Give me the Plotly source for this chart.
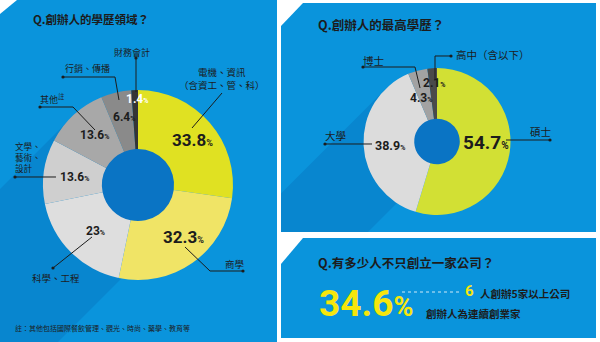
import plotly.graph_objects as go

W, H = 600, 342

# ---------------- data ----------------
field_labels = ["電機、資訊（含資工、管、科）", "商學", "科學、工程", "文學、藝術、設計", "其他", "行銷、傳播", "財務會計"]
field_values = [33.8, 32.3, 23, 13.6, 13.6, 6.4, 1.4]

degree_labels = ["碩士", "大學", "博士", "高中（含以下）"]
degree_values = [54.7, 38.9, 4.3, 2.1]

serial_founder_pct = 34.6
five_plus_founders = 6

# ---------------- styles ----------------
BLUE = "#0a94dc"
SHADOW = "#0886cf"
HOLE = "#0a74c4"
DARK = "#1c1c1c"
YELLOW = "#f6e60c"
CJK = "Noto Sans CJK TC"
NUM = "Roboto, Noto Sans CJK TC"

field_colors = ["#e0e122", "#f0e466", "#dedede", "#cfcfcf", "#a8a8a8", "#8a8a8a", "#353535"]
degree_colors = ["#d2e034", "#dcdcdc", "#a2a2a2", "#4a4a4a"]


def X(px):
    return px / W


def Y(py):
    return 1 - py / H


def path(points):
    return "M " + " L ".join(f"{X(a):.5f},{Y(b):.5f}" for a, b in points) + " Z"


def opath(points):
    return "M " + " L ".join(f"{X(a):.5f},{Y(b):.5f}" for a, b in points)


shapes = []
annotations = []


def poly(points, color):
    shapes.append(dict(type="path", xref="paper", yref="paper", path=path(points),
                       fillcolor=color, line=dict(width=0), layer="below"))


def circle(cx, cy, r, color, layer="below"):
    shapes.append(dict(type="circle", xref="paper", yref="paper",
                       x0=X(cx - r), x1=X(cx + r), y0=Y(cy + r), y1=Y(cy - r),
                       fillcolor=color, line=dict(width=0), layer=layer))


def leader(points, dot=None, color=DARK):
    shapes.append(dict(type="path", xref="paper", yref="paper", path=opath(points),
                       line=dict(color=color, width=1), layer="above"))
    if dot is not None:
        circle(dot[0], dot[1], 1.6, color, layer="above")


def text(t, x, y, size, color=DARK, family=CJK, anchor="left"):
    annotations.append(dict(text=t, x=X(x), y=Y(y), xref="paper", yref="paper",
                            xanchor=anchor, yanchor="middle", showarrow=False, align="left",
                            font=dict(size=size, color=color, family=family),
                            borderpad=0))


def pct(v, small):
    return f"<b>{v:g}<span style='font-size:{small}px'>%</span></b>"


# ---------------- panels ----------------
poly([(0, 14), (17, 0), (277, 0), (277, 342), (0, 342)], BLUE)
poly([(281, 26), (303, 3), (596, 3), (596, 232), (281, 232)], BLUE)
poly([(281, 264), (303, 238), (596, 238), (596, 338), (281, 338)], BLUE)

# long shadows
poly([(71, 118), (0, 189), (0, 342), (58, 342), (138, 262), (138, 185)], SHADOW)
poly([(385, 89.5), (281, 193.5), (281, 232), (368, 232), (457, 143), (437, 141.5)], SHADOW)

# donut holes
circle(138, 185, 37, HOLE)
circle(437, 141.5, 24, HOLE)

# ---------------- donuts ----------------
fig = go.Figure()
fig.add_trace(go.Pie(
    labels=field_labels, values=field_values, sort=False, direction="clockwise",
    rotation=0, hole=0.38, textinfo="none", hoverinfo="label+value",
    marker=dict(colors=field_colors, line=dict(width=0)),
    domain=dict(x=[X(43), X(233)], y=[Y(280), Y(90)]), showlegend=False,
))
fig.add_trace(go.Pie(
    labels=degree_labels, values=degree_values, sort=False, direction="clockwise",
    rotation=0, hole=0.31, textinfo="none", hoverinfo="label+value",
    marker=dict(colors=degree_colors, line=dict(width=0)),
    domain=dict(x=[X(363.5), X(510.5)], y=[Y(215), Y(68)]), showlegend=False,
))

# ---------------- left panel text ----------------
text("<b>Q.創辦人的學歷領域？</b>", 32, 19, 11.5)

text(field_labels[6], 132, 52, 9, anchor="center")
leader([(136, 58), (136, 92)], dot=(136, 58))

text(field_labels[5], 87, 68, 9, anchor="center")
leader([(63, 77), (115, 77), (119, 100)], dot=(63, 77))

text(field_labels[4] + "<sup>註</sup>", 39, 99, 9)
leader([(40, 107), (73, 107), (95, 130)], dot=(40, 107))

text("文學、<br>藝術、<br>設計", 14, 157, 8.6)
leader([(15, 177), (56, 177)], dot=(15, 177))

text("電機、資訊", 222, 72, 9.5, anchor="center")
text("（含資工、管、科）", 222, 85, 9.5, anchor="center")
leader([(222, 93), (192, 128)])

text(field_labels[1], 224, 264, 9.5)
leader([(185, 247), (210, 271), (243, 271)], dot=(243, 271))

text(field_labels[2], 31, 278, 9.5)
leader([(92, 237), (53, 268)], dot=(53, 268))

text(pct(field_values[0], 9), 171, 140, 17, family=NUM)
text(pct(field_values[1], 9), 162, 237, 17, family=NUM)
text(pct(field_values[2], 7), 85, 231, 12, family=NUM)
text(pct(field_values[3], 7), 59, 177, 12, family=NUM)
text(pct(field_values[4], 7), 79, 135, 12, family=NUM)
text(pct(field_values[5], 7), 112, 117, 12, family=NUM)
text(pct(field_values[6], 7), 125, 99, 12, color="white", family=NUM)

text("註：其他包括國際餐飲管理、觀光、時尚、藥學、教育等", 14, 328, 7)

# ---------------- right top panel ----------------
text("<b>Q.創辦人的最高學歷？</b>", 317, 25, 12.5)

text(degree_labels[3], 455, 54, 10.5)
leader([(435, 80), (435, 56), (451, 56)], dot=(451, 56))

text(degree_labels[2], 362, 60, 10.5)
leader([(363, 67), (415, 67), (420, 88)], dot=(363, 67))

text(degree_labels[1], 324, 135, 10.5)
leader([(325, 144), (372, 144)], dot=(325, 144))

text(degree_labels[0], 529, 131, 10.5)
leader([(506, 140), (550, 140)], dot=(550, 140))

text(pct(degree_values[0], 10), 462, 142, 19, family=NUM)
text(pct(degree_values[1], 7), 374, 146, 12.5, family=NUM)
text(pct(degree_values[2], 7), 409, 98, 12, family=NUM)
text(pct(degree_values[3], 7), 422, 83, 12, family=NUM)

# ---------------- right bottom panel ----------------
text("<b>Q.有多少人不只創立一家公司？</b>", 317, 262, 12.5)

text(f"<b>{serial_founder_pct:g}<span style='font-size:27px'>%</span></b>", 318, 303, 37,
     color=YELLOW, family=NUM)
shapes.append(dict(type="line", xref="paper", yref="paper", x0=X(402), x1=X(462), y0=Y(292), y1=Y(292),
                   line=dict(color="#cfe9f8", width=1, dash="dot"), layer="above"))
text(f"<b>{five_plus_founders}</b>", 464, 291, 15, color=YELLOW, family=NUM)
text("<b>人創辦5家以上公司</b>", 479, 293, 10.5)
text("<b>創辦人為連續創業家</b>", 425, 313, 10.5)

fig.update_layout(
    width=W, height=H, margin=dict(l=0, r=0, t=0, b=0),
    paper_bgcolor="white", plot_bgcolor="white",
    shapes=shapes, annotations=annotations, showlegend=False,
)

fig.write_html("out.html")
